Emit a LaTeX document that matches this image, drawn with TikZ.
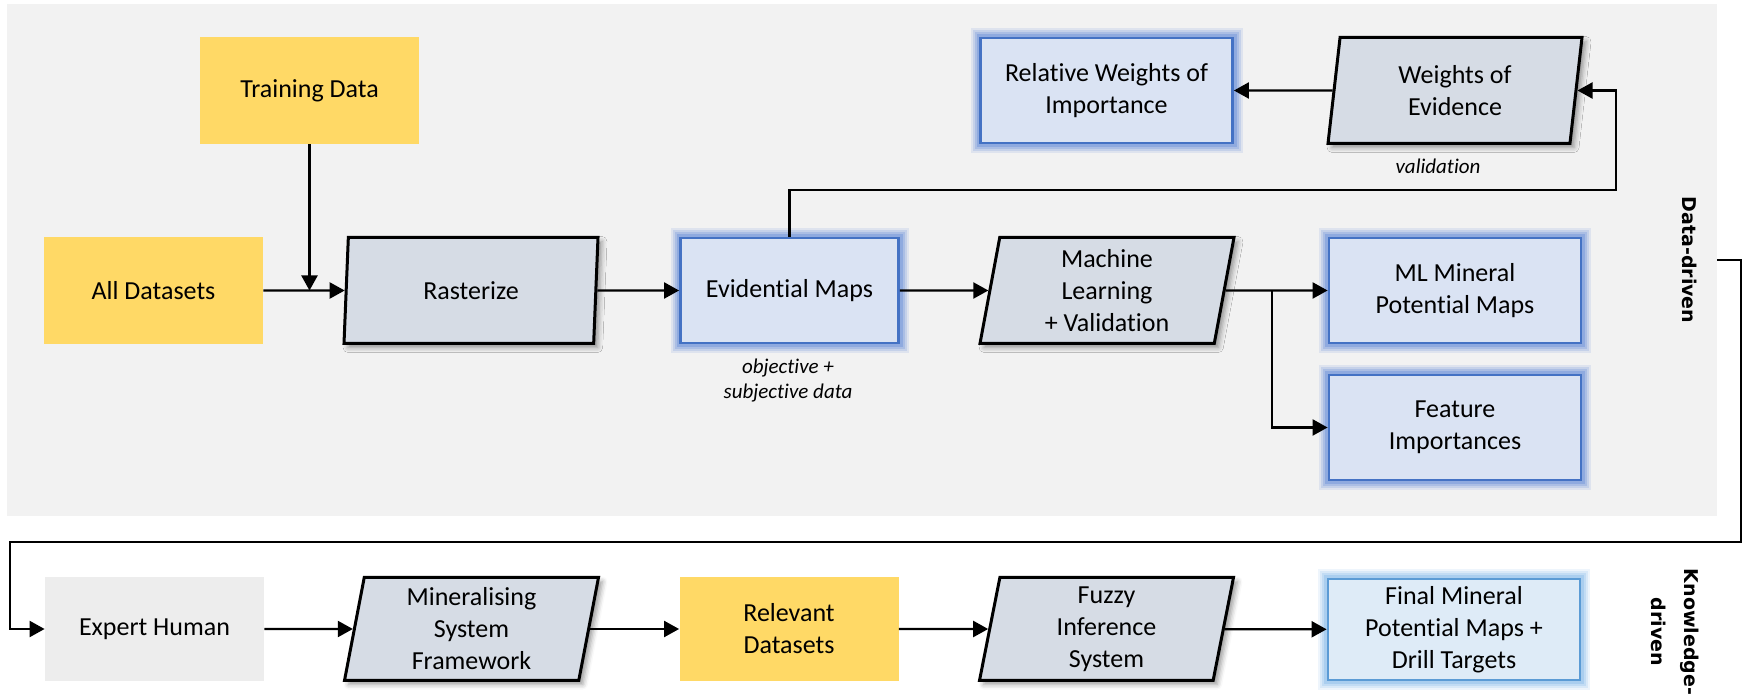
\documentclass[tikz,border=0pt]{standalone}
\usepackage{amsmath}
\usepackage{tikz}
\usepackage{xcolor}
\usepackage{fontspec}
\setmainfont{Carlito}[Ligatures={NoCommon}]
\newfontfamily\sidefont{DejaVu Sans}
\usetikzlibrary{shapes.geometric,arrows.meta,shadows.blur}

\definecolor{panelgray}{HTML}{F2F2F2}
\definecolor{dyellow}{HTML}{FFD966}
\definecolor{bfill}{HTML}{DAE3F3}
\definecolor{bline}{HTML}{4472C4}
\definecolor{bglow}{HTML}{6F93DA}
\definecolor{ffill}{HTML}{DEEBF7}
\definecolor{fline}{HTML}{5B9BD5}
\definecolor{fglow}{HTML}{8DBDEA}
\definecolor{pfill}{HTML}{D6DCE5}
\definecolor{egray}{HTML}{EDEDED}

\begin{document}
\begin{tikzpicture}[x=0.5pt,y=-0.5pt]%
  \tikzstyle{every node}=[font=\fontsize{13}{16}\selectfont,align=center,inner sep=0]
  \tikzstyle{yel}=[fill=dyellow,minimum width=109.5pt,minimum height=53.5pt]
  \tikzstyle{gry}=[fill=egray,minimum width=109.5pt,minimum height=52pt]
  \tikzstyle{blu}=[fill=bfill,draw=bline,line width=1.4pt,minimum height=52.5pt,
    preaction={draw=bglow,line width=10pt,draw opacity=0.15},
    preaction={draw=bglow,line width=8pt,draw opacity=0.22},
    preaction={draw=bglow,line width=6pt,draw opacity=0.3},
    preaction={draw=bglow,line width=4pt,draw opacity=0.45}]
  \tikzstyle{fin}=[fill=ffill,draw=fline,line width=1.4pt,minimum width=126pt,minimum height=50.5pt,
    preaction={draw=fglow,line width=10pt,draw opacity=0.15},
    preaction={draw=fglow,line width=8pt,draw opacity=0.22},
    preaction={draw=fglow,line width=6pt,draw opacity=0.3},
    preaction={draw=fglow,line width=4pt,draw opacity=0.45}]
  \tikzstyle{para}=[trapezium,trapezium left angle=76.5,trapezium right angle=103.5,
    trapezium stretches body,minimum width=127pt,minimum height=53pt,
    fill=pfill,draw=black,line width=1.5pt,
    blur shadow={shadow xshift=2pt,shadow yshift=-2pt,shadow blur radius=2.5pt,shadow opacity=40}]
  \tikzstyle{arr}=[line width=1.1pt,-{Triangle[length=7.5pt,width=8pt]}]
  \tikzstyle{note}=[font=\fontsize{10.5}{12.5}\selectfont\itshape]
  \tikzstyle{side}=[font=\fontsize{9.5}{16.5}\selectfont\sidefont\bfseries,rotate=-90]

  \useasboundingbox (0,0) rectangle (1746,694);
  \node (pnl) [fill=panelgray,minimum width=855pt,minimum height=256pt] at (862,260) {};

  % data-driven part
  \node (train) [yel] at (309.5,90.5) {Training Data};
  \node (alld) [yel] at (153.5,290.5) {All Datasets};
  \node (rast) [para] at (471,290.5) {Rasterize};
  \node (evid) [blu,minimum width=109pt] at (789.5,290.5) {Evidential Maps};
  \node (mach) [para] at (1107,290.5) {Machine\\Learning\\+ Validation};
  \node (mlmp) [blu,minimum width=126pt] at (1455,290.5) {ML Mineral\\Potential Maps};
  \node (feat) [blu,minimum width=126pt] at (1455,427.5) {Feature\\Importances};
  \node (relw) [blu,minimum width=126pt] at (1106.5,90.5) {Relative Weights of\\Importance};
  \node (woe) [para] at (1455,90.5) {Weights of\\Evidence};
  \node (obj) [note] at (788,381) {objective +\\subjective data};
  \node (val) [note] at (1438,166) {validation};
  \node (dd) [side] at (1690,260) {Data-driven};

  % knowledge-driven part
  \node (expert) [gry] at (154.5,629) {Expert Human};
  \node (msf) [para,minimum height=51.5pt] at (471.5,629) {Mineralising\\System\\Framework};
  \node (relds) [yel,minimum height=52pt] at (789,629) {Relevant\\Datasets};
  \node (fis) [para,minimum height=51.5pt] at (1106.5,629) {Fuzzy\\Inference\\System};
  \node (final) [fin] at (1454,629.5) {Final Mineral\\Potential Maps +\\Drill Targets};
  \node (kd) [side] at (1675,632) {Knowledge-\\driven};

  \coordinate (br) at (1272,290.5);
  \coordinate (vr) at (1616,190);
  \coordinate (rc) at (1741,542);
  \coordinate (lc) at (10,542);

  \draw[arr] (train) -- (train |- alld);
  \draw[arr] (alld) -- (rast);
  \draw[arr] (rast) -- (evid);
  \draw[arr] (evid) -- (mach);
  \draw[arr] (mach) -- (mlmp);
  \draw[arr] (br) |- (feat);
  \draw[arr] (evid.north) |- (vr) |- (woe);
  \draw[arr] (woe) -- (relw);
  \draw[arr] (pnl.east) -| (rc) -- (lc) |- (expert);
  \draw[arr] (expert) -- (msf);
  \draw[arr] (msf) -- (relds);
  \draw[arr] (relds) -- (fis);
  \draw[arr] (fis) -- (final);
\end{tikzpicture}
\end{document}
